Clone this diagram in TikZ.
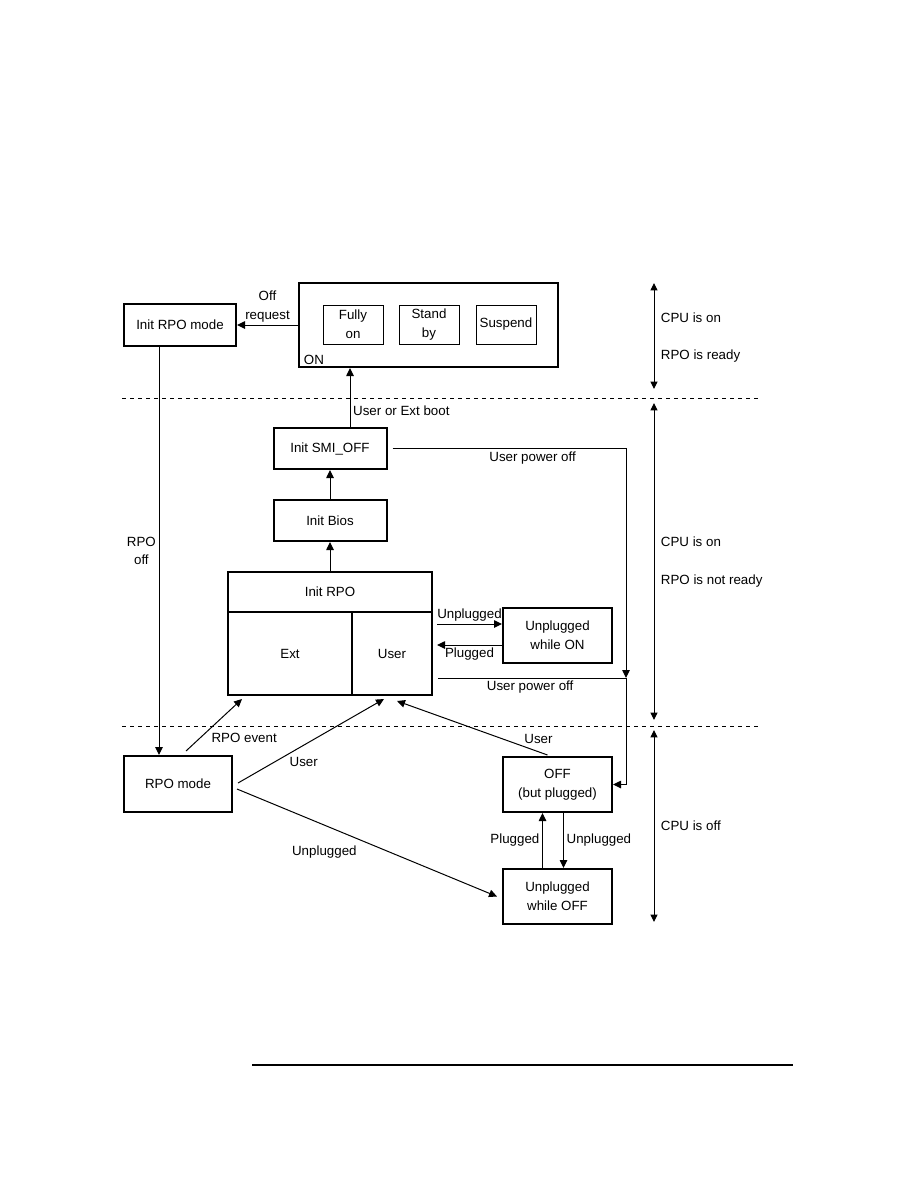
\documentclass[tikz,border=0pt]{standalone}
\usepackage{fontspec}
\setmainfont{Liberation Sans}
\usetikzlibrary{arrows.meta,positioning,calc}
\tikzset{
  state/.style={
    draw=black,
    line width=1.5pt,
    fill=white,
    align=center,
    inner sep=1pt,
    font=\fontsize{10}{14}\selectfont
  },
  substate/.style={state, line width=0.75pt},
  edge/.style={-{Triangle[length=6pt,width=5.6pt]}, line width=0.75pt},
  span/.style={{Triangle[length=5.5pt,width=5.2pt]}-{Triangle[length=5.5pt,width=5.2pt]}, line width=0.75pt},
  labelbox/.style={inner sep=2pt, font=\fontsize{10}{14}\selectfont, align=center},
  level/.style={dash pattern=on 3pt off 3pt, line width=0.6pt}
}
\newcommand{\levelline}[2]{\draw[level] (#1) -- (#2);}

\begin{document}
\begin{tikzpicture}[x=0.75pt, y=-0.75pt]
  \useasboundingbox (0,0) rectangle (918,1188);
  % CPU is on, RPO is ready
  \node[state, minimum width=84pt, minimum height=31.5pt] (initrpomode) at (180,325) {Init RPO mode};
  \node[state, minimum width=194.25pt, minimum height=63pt] (on) at (428.5,325) {};
  \node[labelbox, anchor=south west] (onlabel) at ($(on.south west)+(3,0)$) {ON};
  \node[substate, minimum width=45pt, minimum height=29.25pt] (fullyon) at (353,324.5) {Fully\\on};
  \node[substate, minimum width=45pt, minimum height=29.25pt] (standby) at (429,324.5) {Stand\\by};
  \node[substate, minimum width=45pt, minimum height=29.25pt] (suspend) at (506,324.5) {Suspend};
  % CPU is on, RPO is not ready
  \node[state, minimum width=84.75pt, minimum height=30.75pt] (initsmi) at (330,448.5) {Init SMI\_OFF};
  \node[state, minimum width=84.75pt, minimum height=30.75pt] (initbios) at (330,520.5) {Init Bios};
  \node[state, minimum width=153pt, minimum height=30pt] (initrpo) at (330,592) {Init RPO};
  \node[state, minimum width=93pt, minimum height=62.25pt] (ext) at (290,653.5) {Ext};
  \node[state, minimum width=60pt, minimum height=62.25pt] (user) at (392,653.5) {User};
  \node[state, minimum width=81.75pt, minimum height=41.25pt] (unplon) at (557.5,635.5) {Unplugged\\while ON};
  % CPU is off
  \node[state, minimum width=81pt, minimum height=42pt] (rpomode) at (178,784) {RPO mode};
  \node[state, minimum width=81.75pt, minimum height=41.25pt] (offplug) at (557.5,784.5) {OFF\\(but plugged)};
  \node[state, minimum width=81.75pt, minimum height=41.25pt] (unploff) at (557.5,896.5) {Unplugged\\while OFF};

  \coordinate (lvlAw) at (122,398);
  \coordinate (lvlAe) at (760,398);
  \coordinate (lvlBw) at (122,726);
  \coordinate (lvlBe) at (760,726);
  \levelline{lvlAw}{lvlAe}
  \levelline{lvlBw}{lvlBe}

  \draw[edge] (on.west) -- node[labelbox, above] {Off\\request} (initrpomode.east);
  \draw[edge] ($(initsmi.north)+(20,0)$) -- node[labelbox, pos=0.28, right] {User or Ext boot} ($(on.south)+(-78.5,0)$);
  \draw[edge] (initbios.north) -- (initsmi.south);
  \draw[edge] (initrpo.north) -- (initbios.south);
  \coordinate (unplA) at (437,624);
  \coordinate (plugA) at (437,645);
  \draw[edge] (unplA) -- node[labelbox, above] {Unplugged} (unplA -| unplon.west);
  \draw[edge] (plugA -| unplon.west) -- node[labelbox, below] {Plugged} (plugA);
  \coordinate (pwrB) at (438,678);
  \coordinate (join) at (626,678);
  \draw[edge] ($(initsmi.east)+(5,0)$) -| node[labelbox, pos=0.3, below] {User power off} (join);
  \draw[edge] (pwrB) -- node[labelbox, pos=0.49, below] {User power off} (join) |- (offplug.east);
  \draw[edge] ($(initrpomode.south)+(-21,0)$) -- node[labelbox, left] {RPO\\off} ($(rpomode.north)+(-19,0)$);
  \draw[edge] ($(rpomode.north)+(8,-4)$) -- node[labelbox, pos=0.4, below right] {RPO event} ($(ext.south west)+(15,3)$);
  \draw[edge] ($(rpomode.east)+(5,-1)$) -- node[labelbox, pos=0.45, below=7pt] {User} ($(user.south)+(-8,3)$);
  \draw[edge] ($(rpomode.east)+(4,5)$) -- node[labelbox, pos=0.336, below=13pt] {Unplugged} ($(unploff.west)+(-5,0)$);
  \draw[edge] ($(offplug.north)+(-10,-1)$) -- node[labelbox, pos=0.06, above=4pt] {User} ($(user.south)+(5,5)$);
  \draw[edge] ($(unploff.north)+(-15,0)$) -- node[labelbox, left] {Plugged} ($(offplug.south)+(-15,0)$);
  \draw[edge] ($(offplug.south)+(6,0)$) -- node[labelbox, right] {Unplugged} ($(unploff.north)+(6,0)$);

  % levels on the right
  \coordinate (sp1t) at (654,283);
  \coordinate (sp1b) at (654,389);
  \coordinate (sp2t) at (654,403);
  \coordinate (sp2b) at (654,720);
  \coordinate (sp3t) at (654,730);
  \coordinate (sp3b) at (654,922);
  \draw[span] (sp1t) -- (sp1b);
  \draw[span] (sp2t) -- (sp2b);
  \draw[span] (sp3t) -- (sp3b);
  \node[labelbox, anchor=west] (cpu1) at (658,318) {CPU is on};
  \node[labelbox, anchor=west] (rpo1) at (658,356) {RPO is ready};
  \node[labelbox, anchor=west] (cpu2) at (658,542) {CPU is on};
  \node[labelbox, anchor=west] (rpo2) at (658,581) {RPO is not ready};
  \node[labelbox, anchor=west] (cpu3) at (658,826) {CPU is off};

  \coordinate (rulew) at (252,1065);
  \coordinate (rulee) at (793,1065);
  \draw[line width=1.1pt] (rulew) -- (rulee);
\end{tikzpicture}
\end{document}
